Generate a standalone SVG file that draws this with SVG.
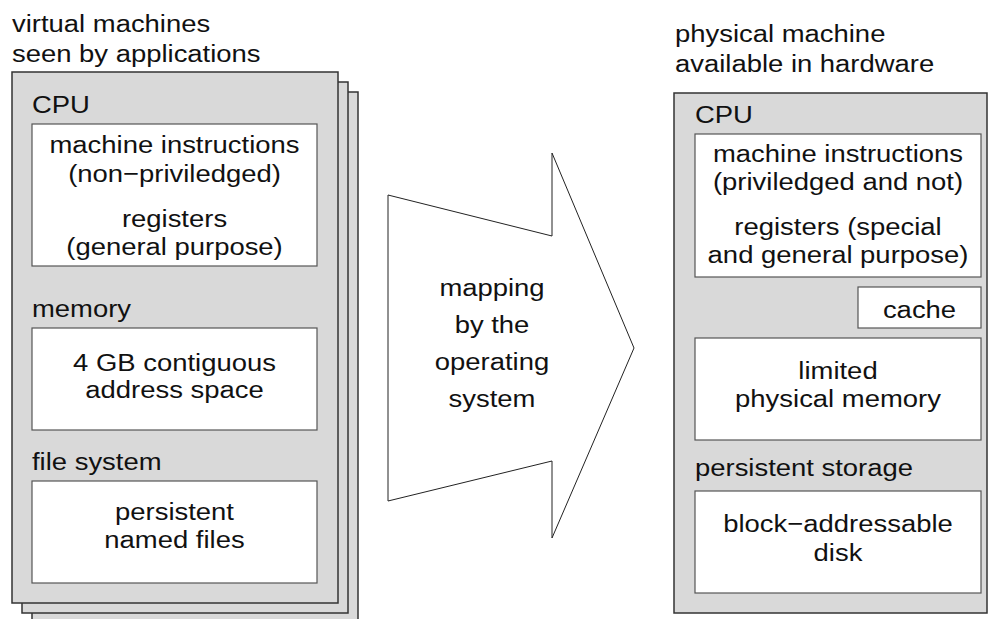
<svg xmlns="http://www.w3.org/2000/svg" width="989" height="619" viewBox="0 0 989 619">
<style>
text{font-family:"Liberation Sans",Arial,sans-serif;font-size:24.5px;fill:#111}
.c{text-anchor:middle}
.page{fill:#d9d9d9;stroke:#333;stroke-width:1.5}
.inner{fill:#fff;stroke:#555;stroke-width:1.2}
.arrow{fill:#fff;stroke:#222;stroke-width:1}
</style>
<rect width="989" height="619" fill="#fff"/>
<g id="virtual">
<text transform="translate(12,32) scale(1.12,1)">virtual machines</text>
<text transform="translate(12,62) scale(1.12,1)">seen by applications</text>
<rect class="page" x="32" y="92" width="326" height="540"/>
<rect class="page" x="22" y="82" width="326" height="531"/>
<rect class="page" x="12" y="72" width="326" height="531"/>
<g id="v-cpu">
<text transform="translate(32,113) scale(1.12,1)">CPU</text>
<rect class="inner" x="32" y="124" width="285" height="142"/>
<text class="c" transform="translate(174.5,153) scale(1.12,1)">machine instructions</text>
<text class="c" transform="translate(174.5,182) scale(1.12,1)">(non−priviledged)</text>
<text class="c" transform="translate(174.5,227) scale(1.12,1)">registers</text>
<text class="c" transform="translate(174.5,255) scale(1.12,1)">(general purpose)</text>
</g>
<g id="v-memory">
<text transform="translate(32,317) scale(1.12,1)">memory</text>
<rect class="inner" x="32" y="328" width="285" height="102"/>
<text class="c" transform="translate(174.5,371) scale(1.12,1)">4 GB contiguous</text>
<text class="c" transform="translate(174.5,398) scale(1.12,1)">address space</text>
</g>
<g id="v-files">
<text transform="translate(32,470) scale(1.12,1)">file system</text>
<rect class="inner" x="32" y="481" width="285" height="102"/>
<text class="c" transform="translate(174.5,520) scale(1.12,1)">persistent</text>
<text class="c" transform="translate(174.5,548) scale(1.12,1)">named files</text>
</g>
</g>
<g id="connectors">
<g id="mapping">
<polygon class="arrow" points="388,195 552,236 552,153 634,348 552,538 552,461 388,501"/>
<text class="c" transform="translate(492,296) scale(1.12,1)">mapping</text>
<text class="c" transform="translate(492,333) scale(1.12,1)">by the</text>
<text class="c" transform="translate(492,370) scale(1.12,1)">operating</text>
<text class="c" transform="translate(492,407) scale(1.12,1)">system</text>
</g>
</g>
<g id="physical">
<text transform="translate(675,42) scale(1.12,1)">physical machine</text>
<text transform="translate(675,72) scale(1.12,1)">available in hardware</text>
<rect class="page" x="674" y="93" width="313" height="520"/>
<g id="p-cpu">
<text transform="translate(695,123) scale(1.12,1)">CPU</text>
<rect class="inner" x="695" y="134" width="286" height="143"/>
<text class="c" transform="translate(838,162) scale(1.12,1)">machine instructions</text>
<text class="c" transform="translate(838,190) scale(1.12,1)">(priviledged and not)</text>
<text class="c" transform="translate(838,235) scale(1.12,1)">registers (special</text>
<text class="c" transform="translate(838,263) scale(1.12,1)">and general purpose)</text>
</g>
<g id="p-cache">
<rect class="inner" x="858" y="287" width="123" height="41"/>
<text class="c" transform="translate(919.5,318) scale(1.12,1)">cache</text>
</g>
<g id="p-memory">
<rect class="inner" x="695" y="338" width="286" height="102"/>
<text class="c" transform="translate(838,379) scale(1.12,1)">limited</text>
<text class="c" transform="translate(838,407) scale(1.12,1)">physical memory</text>
</g>
<g id="p-storage">
<text transform="translate(695,476) scale(1.12,1)">persistent storage</text>
<rect class="inner" x="695" y="491" width="286" height="102"/>
<text class="c" transform="translate(838,532) scale(1.12,1)">block−addressable</text>
<text class="c" transform="translate(838,561) scale(1.12,1)">disk</text>
</g>
</g>
</svg>
